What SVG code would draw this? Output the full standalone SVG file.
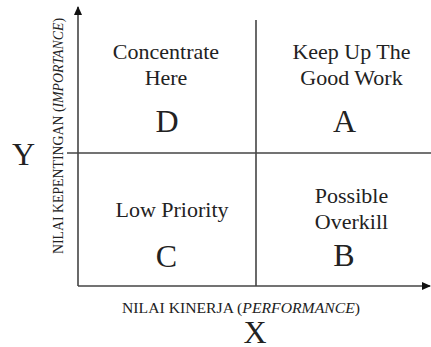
<svg xmlns="http://www.w3.org/2000/svg" width="431" height="347" viewBox="0 0 431 347">
<style>
svg text, svg tspan{font-family:"Liberation Serif","Times New Roman",serif !important}
.lb{fill:#222;text-anchor:middle}
.q{font-size:22px}
.L{font-size:32px}
.ax{font-size:15px}
.ln{stroke:#444;stroke-width:1.6;fill:none}
</style>
<defs>
<marker id="arr" markerWidth="10" markerHeight="10" refX="8" refY="5" orient="auto" markerUnits="userSpaceOnUse">
<path d="M0,1 L9,5 L0,9 Z" fill="#111"/>
</marker>
</defs>
<rect width="431" height="347" fill="#fff"/>
<g id="connectors">
<line class="ln" x1="78" y1="286" x2="78" y2="7" marker-end="url(#arr)"/>
<line class="ln" x1="78" y1="286" x2="430" y2="286" marker-end="url(#arr)"/>
<line class="ln" x1="67" y1="153" x2="431" y2="153"/>
<line class="ln" x1="256" y1="20" x2="256" y2="286"/>
</g>
<g id="quadD">
<text class="lb q" style="font-family:'Liberation Serif',serif !important" x="166" y="59">Concentrate</text>
<text class="lb q" style="font-family:'Liberation Serif',serif !important" x="166" y="85">Here</text>
<text class="lb L" style="font-family:'Liberation Serif',serif !important" x="167" y="132">D</text>
</g>
<g id="quadA">
<text class="lb q" style="font-family:'Liberation Serif',serif !important" x="351.5" y="59">Keep Up The</text>
<text class="lb q" style="font-family:'Liberation Serif',serif !important" x="351.5" y="85">Good Work</text>
<text class="lb L" style="font-family:'Liberation Serif',serif !important" x="344.5" y="132">A</text>
</g>
<g id="quadC">
<text class="lb q" style="font-family:'Liberation Serif',serif !important" x="172" y="217">Low Priority</text>
<text class="lb L" style="font-family:'Liberation Serif',serif !important" x="166.5" y="267">C</text>
</g>
<g id="quadB">
<text class="lb q" style="font-family:'Liberation Serif',serif !important" x="351.5" y="203">Possible</text>
<text class="lb q" style="font-family:'Liberation Serif',serif !important" x="351.5" y="229">Overkill</text>
<text class="lb L" style="font-family:'Liberation Serif',serif !important" x="344" y="266">B</text>
</g>
<g id="labelY">
<text class="lb L" style="font-family:'Liberation Serif',serif !important" x="23.5" y="165">Y</text>
<text class="lb ax" style="font-family:'Liberation Serif',serif !important" transform="translate(63,136) rotate(-90)" x="0" y="0" textLength="236" lengthAdjust="spacingAndGlyphs">NILAI KEPENTINGAN (<tspan font-style="italic">IMPORTANCE</tspan>)</text>
</g>
<g id="labelX">
<text class="lb ax" style="font-family:'Liberation Serif',serif !important" x="241" y="313" textLength="238" lengthAdjust="spacingAndGlyphs">NILAI KINERJA (<tspan font-style="italic">PERFORMANCE</tspan>)</text>
<text class="lb L" style="font-family:'Liberation Serif',serif !important" x="255" y="343">X</text>
</g>
</svg>
